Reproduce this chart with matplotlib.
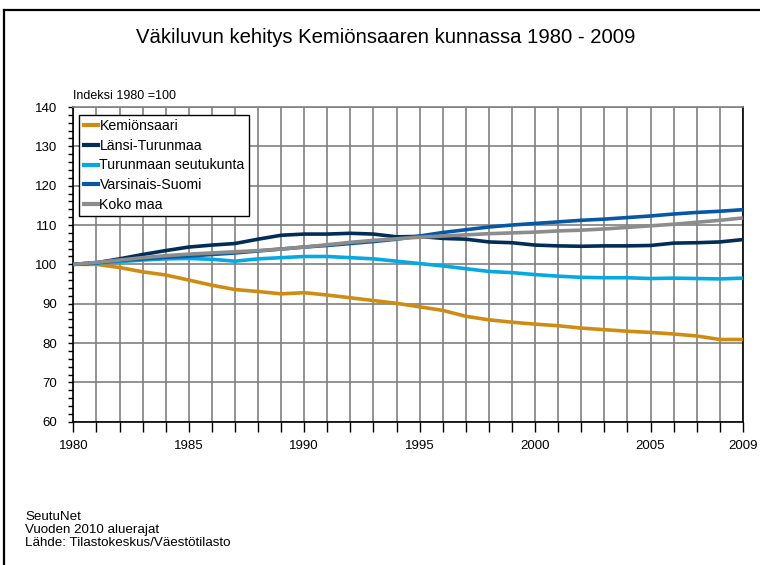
import matplotlib

matplotlib.use("Agg")

import matplotlib.pyplot as plt
from matplotlib.lines import Line2D
from matplotlib.ticker import FixedLocator, MultipleLocator, FuncFormatter


YEARS = list(range(1980, 2010))

KEMIONSAARI = [
    100.0, 100.0, 99.2, 98.1, 97.3, 96.0, 94.7, 93.6, 93.1, 92.5,
    92.8, 92.2, 91.5, 90.8, 90.1, 89.2, 88.3, 86.8, 85.9, 85.3,
    84.8, 84.4, 83.8, 83.4, 83.0, 82.7, 82.3, 81.8, 80.9, 80.9,
]

LANSI_TURUNMAA = [
    100.0, 100.4, 101.4, 102.5, 103.5, 104.4, 104.9, 105.3, 106.4, 107.4,
    107.7, 107.7, 107.9, 107.7, 107.0, 107.1, 106.6, 106.4, 105.7, 105.5,
    104.9, 104.7, 104.6, 104.7, 104.7, 104.8, 105.4, 105.5, 105.7, 106.3,
]

TURUNMAAN_SEUTUKUNTA = [
    100.0, 100.3, 100.7, 101.1, 101.4, 101.5, 101.3, 100.8, 101.4, 101.7,
    102.0, 102.0, 101.7, 101.4, 100.8, 100.2, 99.6, 98.9, 98.2, 97.9,
    97.4, 97.0, 96.7, 96.6, 96.6, 96.4, 96.5, 96.4, 96.3, 96.5,
]

VARSINAIS_SUOMI = [
    100.0, 100.4, 101.0, 101.4, 101.8, 102.1, 102.5, 102.9, 103.4, 103.9,
    104.4, 104.8, 105.3, 105.8, 106.4, 107.2, 108.1, 108.8, 109.5, 110.0,
    110.4, 110.8, 111.2, 111.5, 111.9, 112.3, 112.8, 113.2, 113.5, 113.9,
]

KOKO_MAA = [
    100.0, 100.5, 101.1, 101.7, 102.2, 102.6, 102.9, 103.2, 103.5, 103.9,
    104.4, 105.0, 105.6, 106.1, 106.5, 106.9, 107.2, 107.5, 107.8, 108.0,
    108.2, 108.5, 108.7, 109.0, 109.4, 109.8, 110.2, 110.7, 111.2, 111.8,
]

SERIES = [
    ("Kemiönsaari", KEMIONSAARI, "#cf8c12"),
    ("Länsi-Turunmaa", LANSI_TURUNMAA, "#022d57"),
    ("Turunmaan seutukunta", TURUNMAAN_SEUTUKUNTA, "#04a9e2"),
    ("Varsinais-Suomi", VARSINAIS_SUOMI, "#0658a6"),
    ("Koko maa", KOKO_MAA, "#8c8c8c"),
]

LABEL_YEARS = [1980, 1985, 1990, 1995, 2000, 2005, 2009]

plt.rcParams["font.family"] = ["Liberation Sans", "DejaVu Sans"]

fig = plt.figure(figsize=(7.6, 5.65), dpi=100)
ax = fig.add_axes([0.0965, 0.2536, 0.881, 0.557])

for label, values, color in SERIES:
    ax.plot(YEARS, values, color=color, linewidth=2.6, label=label,
            solid_capstyle="butt", zorder=3)

ax.set_xlim(1980, 2009)
ax.set_ylim(60, 140)

ax.xaxis.set_major_locator(FixedLocator(YEARS))
ax.xaxis.set_major_formatter(
    FuncFormatter(lambda x, pos: f"{int(round(x))}" if int(round(x)) in LABEL_YEARS else "")
)
ax.yaxis.set_major_locator(MultipleLocator(10))
ax.yaxis.set_minor_locator(MultipleLocator(2))

ax.tick_params(axis="x", which="major", direction="out", length=7.5, width=1,
               labelsize=9.5, color="black", pad=5.5)
ax.tick_params(axis="y", which="major", direction="out", length=3.5, width=1,
               labelsize=9.5, color="black", pad=8)
ax.tick_params(axis="y", which="minor", direction="out", length=3.5, width=1, color="black")

ax.grid(True, which="major", color="#808080", linewidth=1.2, zorder=1)
ax.set_axisbelow(True)

for side in ["left", "bottom", "right"]:
    ax.spines[side].set_color("black")
    ax.spines[side].set_linewidth(1.2)
ax.spines["top"].set_color("#808080")
ax.spines["top"].set_linewidth(1.2)

handles = [Line2D([0], [0], color=color, linewidth=3) for _, _, color in SERIES]
legend = ax.legend(
    handles,
    [label for label, _, _ in SERIES],
    loc="upper left",
    bbox_to_anchor=(0.009, 0.975),
    fontsize=10.2,
    frameon=True,
    fancybox=False,
    handlelength=1.0,
    handletextpad=0.12,
    borderpad=0.3,
    labelspacing=0.4,
    borderaxespad=0,
)
legend.get_frame().set_edgecolor("black")
legend.get_frame().set_linewidth(1.0)
legend.get_frame().set_alpha(1)

fig.text(0.507, 0.933, "Väkiluvun kehitys Kemiönsaaren kunnassa 1980 - 2009",
         ha="center", va="center", fontsize=14.6)
fig.text(0.096, 0.830, "Indeksi 1980 =100", ha="left", va="center", fontsize=9)

fig.text(0.033, 0.062, "SeutuNet\nVuoden 2010 aluerajat\nLähde: Tilastokeskus/Väestötilasto",
         ha="left", va="center", fontsize=9.6, linespacing=1.1)

# outer frame: only top and left edges are visible in the original
fig.add_artist(Line2D([0.005, 0.005], [0.0, 0.982], color="black", linewidth=1.6))
fig.add_artist(Line2D([0.005, 1.0], [0.982, 0.982], color="black", linewidth=1.6))

fig.savefig("out.png", dpi=100)
